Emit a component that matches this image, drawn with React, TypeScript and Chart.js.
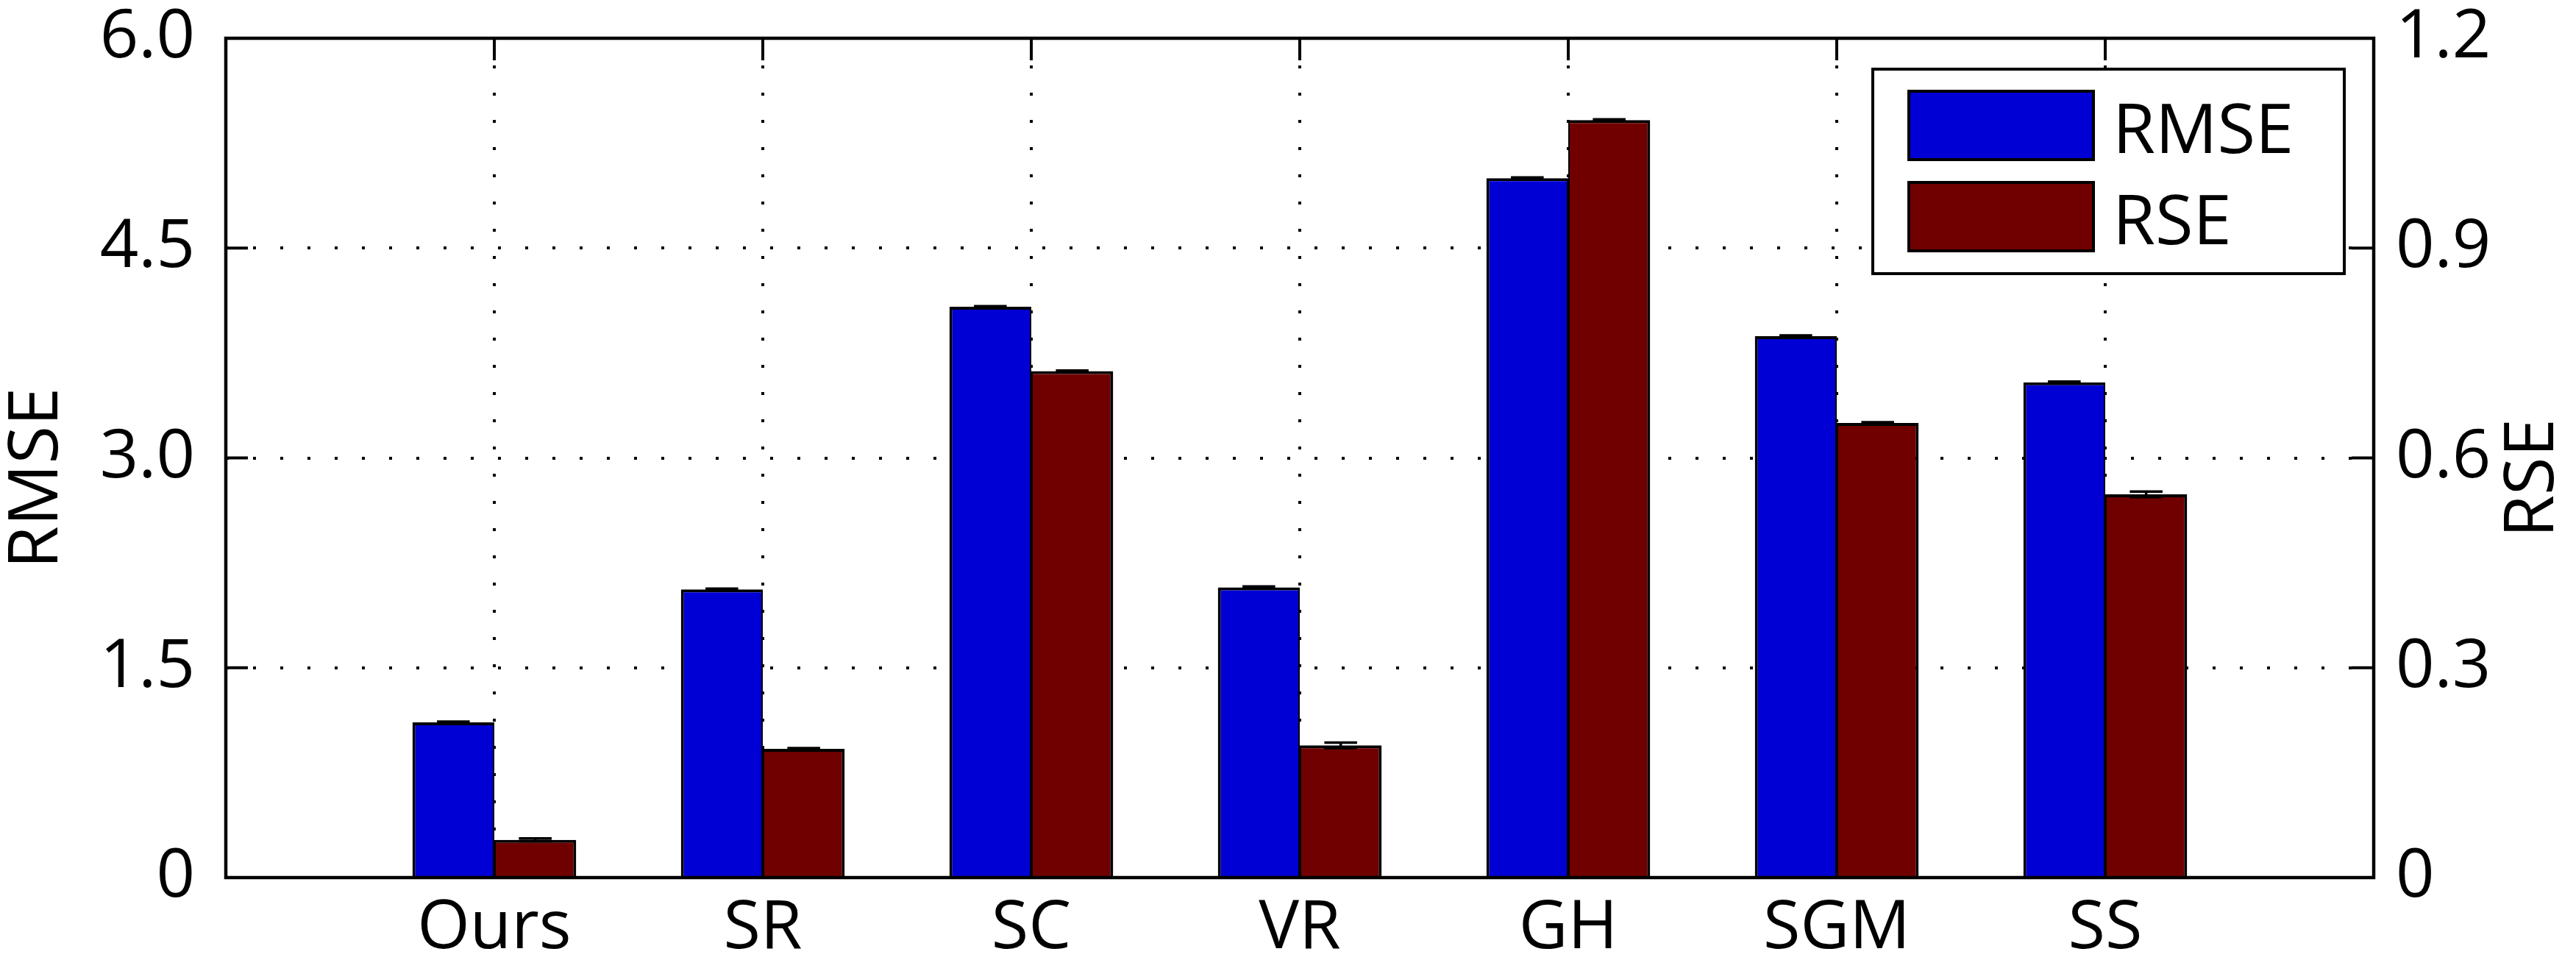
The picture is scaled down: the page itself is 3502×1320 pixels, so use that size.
import { useEffect, useRef } from "react"
import { Chart, registerables, type Plugin } from "chart.js"

Chart.register(...registerables)

// values
const categories = ["Ours", "SR", "SC", "VR", "GH", "SGM", "SS"]
const rmseValues = [1.11, 2.06, 4.08, 2.075, 5.0, 3.87, 3.54]
const rseValues = [0.054, 0.184, 0.724, 0.189, 1.083, 0.65, 0.548]
const rmseErrors = [0.005, 0.005, 0.005, 0.006, 0.005, 0.005, 0.005]
const rseErrors = [0.002, 0.001, 0.001, 0.004, 0.001, 0.001, 0.004]
const rmseTicks = [0, 1.5, 3.0, 4.5, 6.0]
const rseTicks = [0, 0.3, 0.6, 0.9, 1.2]

const BLUE = "#0000D4"
const RED = "#700000"
const FONT = "'Open Sans', 'Noto Sans', sans-serif"

const fmt = (v: number) => (v === 0 ? "0" : v.toFixed(1))

// error bars on top of each bar
const errorBars: Plugin = {
  id: "errorBars",
  afterDatasetsDraw(chart) {
    const ctx = chart.ctx
    chart.data.datasets.forEach((ds: any, i) => {
      const meta = chart.getDatasetMeta(i)
      const scale = chart.scales[ds.yAxisID]
      meta.data.forEach((bar: any, j) => {
        const v = ds.data[j]
        if (v == null) return
        const err = ds.errors[j - 1]
        const w = bar.width * 0.4
        const yTop = scale.getPixelForValue(v + err)
        const yBot = scale.getPixelForValue(v - err)
        ctx.save()
        ctx.strokeStyle = "#000"
        ctx.lineWidth = 3.5
        ctx.beginPath()
        ctx.moveTo(bar.x, yTop)
        ctx.lineTo(bar.x, yBot)
        ctx.moveTo(bar.x - w / 2, yTop)
        ctx.lineTo(bar.x + w / 2, yTop)
        ctx.moveTo(bar.x - w / 2, yBot)
        ctx.lineTo(bar.x + w / 2, yBot)
        ctx.stroke()
        ctx.restore()
      })
    })
  },
}

// axes box with inward ticks, matlab style
const axesBox: Plugin = {
  id: "axesBox",
  afterDatasetsDraw(chart) {
    const { ctx, chartArea: a, scales } = chart
    const len = 30
    ctx.save()
    ctx.strokeStyle = "#000"
    ctx.lineWidth = 4
    ctx.beginPath()
    categories.forEach((_, i) => {
      const x = scales.x.getPixelForValue(i + 1)
      ctx.moveTo(x, a.top)
      ctx.lineTo(x, a.top + len)
      ctx.moveTo(x, a.bottom)
      ctx.lineTo(x, a.bottom - len)
    })
    rmseTicks.forEach((v) => {
      const y = scales.y.getPixelForValue(v)
      ctx.moveTo(a.left, y)
      ctx.lineTo(a.left + len, y)
    })
    rseTicks.forEach((v) => {
      const y = scales.y1.getPixelForValue(v)
      ctx.moveTo(a.right, y)
      ctx.lineTo(a.right - len, y)
    })
    ctx.stroke()
    ctx.lineWidth = 4.5
    ctx.strokeRect(a.left, a.top, a.right - a.left, a.bottom - a.top)
    ctx.restore()
  },
}

// legend box inside the axes + rotated axis titles
const extras: Plugin = {
  id: "extras",
  afterDraw(chart) {
    const ctx = chart.ctx
    ctx.save()
    ctx.fillStyle = "#fff"
    ctx.fillRect(2546, 94, 641, 278)
    ctx.strokeStyle = "#000"
    ctx.lineWidth = 4
    ctx.strokeRect(2546, 94, 641, 278)
    chart.data.datasets.forEach((ds: any, i) => {
      const top = 124 + i * 124
      ctx.fillStyle = ds.backgroundColor
      ctx.fillRect(2595, top, 251, 93)
      ctx.strokeRect(2595, top, 251, 93)
      ctx.fillStyle = "#000"
      ctx.font = `94px ${FONT}`
      ctx.textAlign = "left"
      ctx.textBaseline = "alphabetic"
      ctx.fillText(ds.label, 2872, top + 84)
    })

    ctx.font = `94px ${FONT}`
    ctx.textAlign = "center"
    ctx.textBaseline = "middle"
    ctx.fillStyle = "#000"
    ctx.translate(51, 650)
    ctx.rotate(-Math.PI / 2)
    ctx.fillText("RMSE", 0, 0)
    ctx.rotate(Math.PI / 2)
    ctx.translate(3444 - 51, 0)
    ctx.rotate(-Math.PI / 2)
    ctx.fillText("RSE", 0, 0)
    ctx.restore()
  },
}

export default function App() {
  const canvasRef = useRef<HTMLCanvasElement>(null)
  const chartRef = useRef<Chart | null>(null)

  useEffect(() => {
    if (!canvasRef.current) return
    const ctx = canvasRef.current.getContext("2d")
    if (!ctx) return

    Chart.defaults.font.family = FONT
    Chart.defaults.color = "#000"

    const labels = ["", ...categories, ""]
    const hide = "rgba(0,0,0,0)"

    chartRef.current = new Chart(ctx, {
      type: "bar",
      data: {
        labels,
        datasets: [
          {
            label: "RMSE",
            data: [null, ...rmseValues, null],
            errors: rmseErrors,
            yAxisID: "y",
            backgroundColor: BLUE,
            borderColor: "#000",
            borderWidth: { top: 4, left: 4, right: 2, bottom: 0 },
            categoryPercentage: 0.61,
            barPercentage: 1.0,
          } as any,
          {
            label: "RSE",
            data: [null, ...rseValues, null],
            errors: rseErrors,
            yAxisID: "y1",
            backgroundColor: RED,
            borderColor: "#000",
            borderWidth: { top: 4, left: 2, right: 4, bottom: 0 },
            categoryPercentage: 0.61,
            barPercentage: 1.0,
          } as any,
        ],
      },
      options: {
        responsive: false,
        devicePixelRatio: 1,
        animation: false,
        layout: { padding: { top: 52, left: 0, right: 0, bottom: 0 } },
        plugins: {
          legend: { display: false },
          tooltip: { enabled: false },
        },
        scales: {
          x: {
            offset: false,
            grid: {
              offset: false,
              drawTicks: false,
              lineWidth: 4,
              color: (c: any) => (c.index === 0 || c.index === labels.length - 1 ? hide : "#000"),
            },
            border: { display: false, dash: [4, 33] },
            ticks: { font: { size: 92 }, padding: 15, color: "#000", maxRotation: 0 },
            afterFit: (s: any) => {
              s.height = 127
              s.paddingLeft = 0
              s.paddingRight = 0
            },
          },
          y: {
            position: "left",
            min: 0,
            max: 6,
            afterBuildTicks: (s: any) => {
              s.ticks = rmseTicks.map((value) => ({ value }))
            },
            grid: {
              drawTicks: false,
              lineWidth: 4,
              color: (c: any) => (c.tick && (c.tick.value === 0 || c.tick.value === 6) ? hide : "#000"),
            },
            border: { display: false, dash: [4, 33] },
            ticks: { font: { size: 92 }, padding: 42, color: "#000", callback: (v: any) => fmt(Number(v)) },
            afterFit: (s: any) => {
              s.width = 307
              s.paddingTop = 0
              s.paddingBottom = 0
            },
          },
          y1: {
            position: "right",
            min: 0,
            max: 1.2,
            afterBuildTicks: (s: any) => {
              s.ticks = rseTicks.map((value) => ({ value }))
            },
            grid: { drawOnChartArea: false, drawTicks: false },
            border: { display: false },
            ticks: { font: { size: 92 }, padding: 30, color: "#000", callback: (v: any) => fmt(Number(v)) },
            afterFit: (s: any) => {
              s.width = 275
              s.paddingTop = 0
              s.paddingBottom = 0
            },
          },
        },
      },
      plugins: [errorBars, axesBox, extras],
    })

    return () => {
      if (chartRef.current) {
        chartRef.current.destroy()
        chartRef.current = null
      }
    }
  }, [])

  return (
    <div style={{ position: "absolute", left: 0, top: 0, width: 3502, height: 1320, background: "#fff" }}>
      <canvas ref={canvasRef} width={3502} height={1320} style={{ width: 3502, height: 1320 }}></canvas>
    </div>
  )
}
